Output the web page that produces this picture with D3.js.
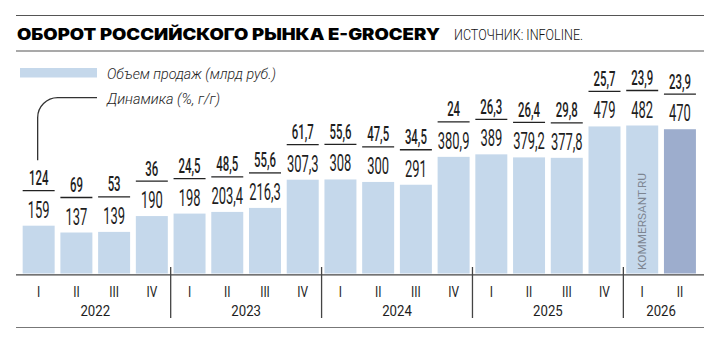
<!DOCTYPE html>
<html>
<head>
<meta charset="utf-8">
<script src="https://cdn.jsdelivr.net/npm/d3@7"></script>
<style>
  html, body { margin: 0; padding: 0; background: #fff; }
  svg { display: block; }
</style>
</head>
<body>
<script>
// data
var quarters = ["I", "II", "III", "IV", "I", "II", "III", "IV", "I", "II", "III", "IV", "I", "II", "III", "IV", "I", "II"];
var years = ["2022", "2023", "2024", "2025", "2026"];
var yearOf = [0, 0, 0, 0, 1, 1, 1, 1, 2, 2, 2, 2, 3, 3, 3, 3, 4, 4];
var sales = [159, 137, 139, 190, 198, 203.4, 216.3, 307.3, 308, 300, 291, 380.9, 389, 379.2, 377.8, 479, 482, 470];
var growth = [124, 69, 53, 36, 24.5, 48.5, 55.6, 61.7, 55.6, 47.5, 34.5, 24, 26.3, 26.4, 29.8, 25.7, 23.9, 23.9];

var width = 720, height = 343;
var lightBlue = '#c5d8eb';
var darkBlue = '#9dadcd';
var ink = '#1e1e1e';

var svg = d3.select("body").append("svg")
  .attr("width", width)
  .attr("height", height);

var keys = d3.range(sales.length);

var x = d3.scaleBand()
  .domain(keys)
  .range([19.8, 698.8])
  .paddingInner(0.152)
  .paddingOuter(0.076);

var y = d3.scaleLinear()
  .domain([0, 482])
  .range([275, 125.5]);

var bw = x.bandwidth();
var gap = x.step() - bw;

function fmt(v) { return String(v).replace('.', ','); }

// condensed text helper (squeezes a normal font horizontally)
function narrowText(sel, px, py, txt, size, sx, weight, anchor) {
  return sel.append("text")
    .attr("transform", "translate(" + px + "," + py + ") scale(" + sx + ",1)")
    .attr("text-anchor", anchor || "middle")
    .style("font-family", "Roboto, 'Liberation Sans', sans-serif")
    .style("font-size", size + "px")
    .style("font-weight", weight)
    .style("fill", ink)
    .text(txt);
}

//=======//
// Title //
//=======//
svg.append("line").attr("x1", 16).attr("x2", 704).attr("y1", 15.5).attr("y2", 15.5)
  .style("stroke", "#555").style("stroke-width", 1.2);
svg.append("line").attr("x1", 16).attr("x2", 704).attr("y1", 51).attr("y2", 51)
  .style("stroke", "#555").style("stroke-width", 1.2);

svg.append("text")
  .attr("x", 17).attr("y", 39.5)
  .attr("textLength", 423).attr("lengthAdjust", "spacingAndGlyphs")
  .style("font-family", "Inter, 'Liberation Sans', sans-serif")
  .style("font-size", "15.5px").style("font-weight", 900)
  .style("fill", "#000")
  .text("ОБОРОТ РОССИЙСКОГО РЫНКА E-GROCERY");

svg.append("text")
  .attr("x", 454).attr("y", 39.5)
  .attr("textLength", 129).attr("lengthAdjust", "spacingAndGlyphs")
  .style("font-family", "Roboto, sans-serif")
  .style("font-size", "14px").style("font-weight", 300)
  .style("fill", "#111")
  .text("ИСТОЧНИК: INFOLINE.");

//========//
// Legend //
//========//
svg.append("rect")
  .attr("x", 20).attr("y", 68).attr("width", 77).attr("height", 9.5)
  .style("fill", lightBlue);

svg.append("text")
  .attr("x", 107).attr("y", 78.5)
  .attr("textLength", 169).attr("lengthAdjust", "spacingAndGlyphs")
  .style("font-family", "Roboto, sans-serif")
  .style("font-size", "15px").style("font-style", "italic").style("font-weight", 300)
  .style("fill", ink)
  .text("Объем продаж (млрд руб.)");

svg.append("text")
  .attr("x", 107).attr("y", 104)
  .attr("textLength", 113).attr("lengthAdjust", "spacingAndGlyphs")
  .style("font-family", "Roboto, sans-serif")
  .style("font-size", "15px").style("font-style", "italic").style("font-weight", 300)
  .style("fill", ink)
  .text("Динамика (%, г/г)");

// leader from the legend down to the first growth label
var lx = x(0) + bw / 2 - 1;
var ly = y(sales[0]) - 35 - 5.5 - 25;
var p = d3.path();
p.moveTo(97, 97.7);
p.lineTo(lx + 20, 97.7);
p.arcTo(lx, 97.7, lx, 117.7, 20);
p.lineTo(lx, ly);
svg.append("path").attr("d", p.toString())
  .style("fill", "none").style("stroke", "#333").style("stroke-width", 1.3);

//======//
// Bars //
//======//
svg.selectAll(".bar")
  .data(keys)
  .enter().append("rect")
  .attr("class", "bar")
  .attr("x", function(i) { return x(i); })
  .attr("y", function(i) { return y(sales[i]); })
  .attr("width", bw)
  .attr("height", function(i) { return y(0) - 1.5 - y(sales[i]); })
  .style("fill", function(i) { return i === sales.length - 1 ? darkBlue : lightBlue; });

// watermark
svg.append("text")
  .attr("transform", "translate(" + (x(16) + bw / 2 + 4) + ",270) rotate(-90)")
  .attr("textLength", 97).attr("lengthAdjust", "spacingAndGlyphs")
  .style("font-family", "Roboto, sans-serif")
  .style("font-size", "11.5px")
  .style("fill", "#7d8591")
  .text("KOMMERSANT.RU");

// labels above bars
var labels = svg.selectAll(".lab")
  .data(keys)
  .enter().append("g")
  .attr("class", "lab");

labels.each(function(i) {
  var g = d3.select(this);
  var cx = x(i) + bw / 2;
  var top = y(sales[i]);
  narrowText(g, cx, top - 8, fmt(sales[i]), 24, 0.54, 400);
  g.append("line")
    .attr("x1", x(i)).attr("x2", x(i) + bw)
    .attr("y1", top - 35).attr("y2", top - 35)
    .style("stroke", "#222").style("stroke-width", 1.3);
  narrowText(g, cx, top - 40.5, fmt(growth[i]), 20, 0.57, 500);
});

//======//
// Axis //
//======//
svg.append("line").attr("x1", 16).attr("x2", 704).attr("y1", 274.8).attr("y2", 274.8)
  .style("stroke", "#444").style("stroke-width", 1.3);
svg.append("line").attr("x1", 16).attr("x2", 704).attr("y1", 327.5).attr("y2", 327.5)
  .style("stroke", "#777").style("stroke-width", 1.2);

keys.forEach(function(i) {
  narrowText(svg, x(i) + bw / 2, 296.5, quarters[i], 14, 0.85, 400);
});

years.forEach(function(yr, k) {
  var idx = keys.filter(function(i) { return yearOf[i] === k; });
  var x0 = x(idx[0]), x1 = x(idx[idx.length - 1]) + bw;
  narrowText(svg, (x0 + x1) / 2, 315.5, yr, 15, 0.88, 400);
  if (k > 0) {
    svg.append("line")
      .attr("x1", x0 - gap / 2).attr("x2", x0 - gap / 2)
      .attr("y1", 267).attr("y2", 318)
      .style("stroke", "#444").style("stroke-width", 1.3);
  }
});
</script>
</body>
</html>
